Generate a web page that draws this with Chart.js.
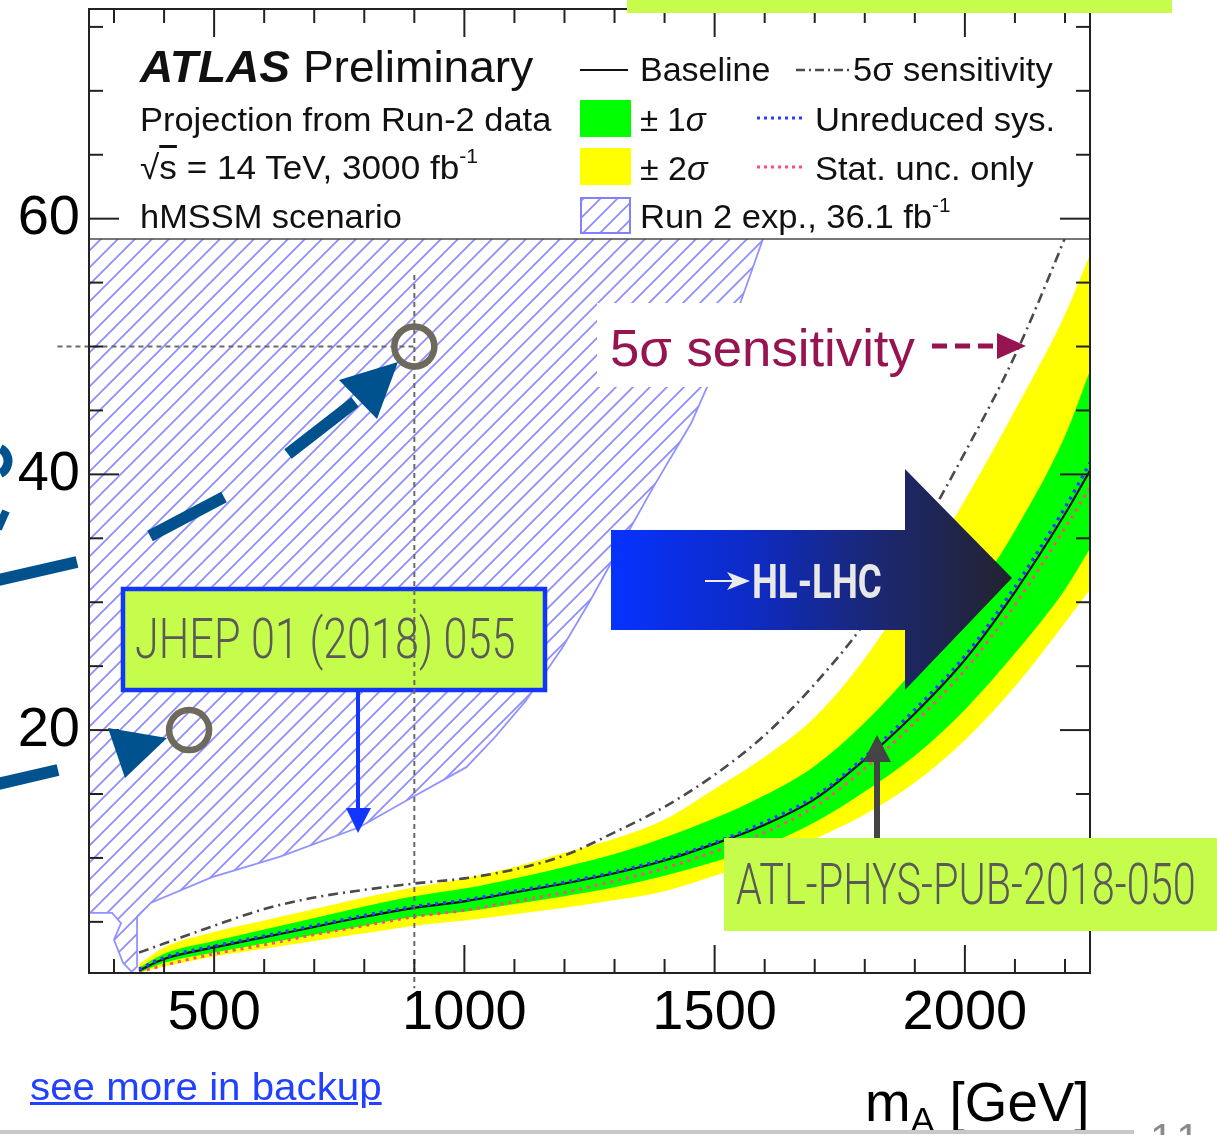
<!DOCTYPE html>
<html lang="en">
<head>
<meta charset="utf-8">
<title>hMSSM tanβ exclusion – HL-LHC projection</title>
<script src="https://cdn.jsdelivr.net/npm/chart.js@4.4.1/dist/chart.umd.min.js"></script>
<style>
  html, body { margin: 0; padding: 0; background: #fff; }
  body { width: 1217px; height: 1135px; overflow: hidden; position: relative; }
  #plot { position: absolute; left: 0; top: 0; }
  .txt { position: absolute; left: 0; top: 0; white-space: nowrap; line-height: 1;
         font-family: "Liberation Sans", Arial, Helvetica, sans-serif; color: #111;
         transform-origin: 0 0; }
  .leg { font-size: 34px; }
  .cond { font-family: Roboto, "Liberation Sans", sans-serif; font-weight: 300; color: #5a5a5a; }
  .sup { font-size: 0.6em; position: relative; top: -0.8em; }
  .sub { font-size: 0.65em; position: relative; top: 0.3em; }
  a { color: inherit; }
  #rule { position: absolute; left: 0; top: 1130px; width: 1134px; height: 4px; background: #c8c8c8; }
</style>
</head>
<body>
<canvas id="plot" width="1217" height="1135"></canvas>

<!-- legend panel -->
<div class="txt" style="font-size:45px" data-x="140" data-b="82" data-w="393"><b><i>ATLAS</i></b> Preliminary</div>
<div class="txt leg" data-x="140" data-b="131" data-w="411">Projection from Run-2 data</div>
<div class="txt leg" data-x="140" data-b="179" data-w="338">√<span style="text-decoration:overline">s</span> = 14 TeV, 3000 fb<span class="sup">-1</span></div>
<div class="txt leg" data-x="140" data-b="228" data-w="262">hMSSM scenario</div>
<div class="txt leg" data-x="640" data-b="81" data-w="130">Baseline</div>
<div class="txt leg" data-x="853" data-b="81" data-w="200">5σ sensitivity</div>
<div class="txt leg" data-x="640" data-b="131" data-w="66">± 1<i>σ</i></div>
<div class="txt leg" data-x="815" data-b="131" data-w="240">Unreduced sys.</div>
<div class="txt leg" data-x="640" data-b="180" data-w="68">± 2<i>σ</i></div>
<div class="txt leg" data-x="815" data-b="180" data-w="218">Stat. unc. only</div>
<div class="txt leg" data-x="640" data-b="228" data-w="310">Run 2 exp., 36.1 fb<span class="sup">-1</span></div>

<!-- call-outs -->
<div class="txt" style="font-size:52px;color:#961450" data-x="610" data-b="366" data-w="305">5σ sensitivity</div>
<div class="txt cond" style="font-size:56px" data-x="135" data-b="658" data-w="380">JHEP 01 (2018) 055</div>
<div class="txt cond" style="font-size:57px" data-x="736" data-b="904" data-w="460">ATL-PHYS-PUB-2018-050</div>
<div class="txt" style="font-family:Roboto,sans-serif;font-weight:700;font-size:49px;color:#e8e8e8" data-x="752" data-b="598" data-w="130">HL-LHC</div>

<!-- axis title, link, page footer -->
<div class="txt" style="font-size:55px;color:#000" data-x="865" data-b="1121" data-w="225">m<span class="sub">A</span> [GeV]</div>
<div class="txt" style="font-size:38px;color:#2141ff" data-x="30" data-b="1100" data-w="352"><a href="#backup">see more in backup</a></div>
<div class="txt" style="font-size:42px;color:#8a8a8a;letter-spacing:6px" data-x="1150" data-b="1153">11</div>
<div id="rule"></div>

<script>
// ---- m_A scan points [GeV] and tanβ limits -------------------------------
const massA      = [350, 400, 500, 600, 700, 800, 900, 1000, 1100, 1200, 1300, 1400, 1500, 1600, 1700, 1800, 1900, 2000, 2100, 2200, 2250];
const baseline   = [1.2, 2.1, 3.0, 3.8, 4.6, 5.4, 6.1, 6.6, 7.3, 8.0, 8.8, 9.8, 11.1, 12.6, 14.6, 17.7, 21.3, 25.5, 30.8, 36.9, 40.3];
const band1Up    = [1.4, 2.5, 3.5, 4.4, 5.3, 6.2, 7.0, 7.6, 8.4, 9.3, 10.3, 11.6, 13.1, 14.9, 17.2, 20.6, 24.8, 29.6, 35.6, 43.0, 48.1];
const band1Down  = [1.0, 1.8, 2.6, 3.3, 4.0, 4.7, 5.4, 5.8, 6.4, 7.0, 7.7, 8.6, 9.7, 11.0, 12.8, 15.2, 18.0, 21.6, 26.0, 31.0, 34.2];
const band2Up    = [1.7, 3.0, 4.2, 5.1, 6.0, 6.9, 7.7, 8.4, 9.3, 10.4, 11.5, 13.0, 15.4, 17.9, 21.0, 25.6, 31.5, 38.0, 45.0, 52.5, 57.2];
const band2Down  = [1.0, 1.5, 2.3, 2.9, 3.5, 4.1, 4.7, 5.1, 5.6, 6.1, 6.7, 7.4, 8.6, 9.9, 11.5, 13.4, 15.9, 19.2, 23.4, 28.4, 31.0];
const unreduced  = [1.3, 2.2, 3.1, 3.9, 4.7, 5.5, 6.2, 6.7, 7.4, 8.1, 8.9, 9.9, 11.2, 12.8, 14.8, 17.9, 21.6, 25.8, 31.2, 37.4, 40.9];
const statOnly   = [1.1, 1.6, 2.5, 3.2, 4.0, 4.7, 5.4, 5.9, 6.6, 7.3, 8.2, 9.2, 10.5, 12.0, 14.0, 17.0, 20.6, 24.7, 29.8, 35.8, 39.0];
const sens5sigma = [2.6, 3.3, 4.7, 6.0, 6.9, 7.5, 8.0, 8.4, 9.1, 10.2, 12.0, 14.0, 16.5, 19.6, 23.6, 28.4, 34.7, 41.7, 49.3, 58.5, 63.5];

// Run 2 expected exclusion (36.1 fb-1), contour traced as a closed outline
const run2Mass = [250, 1629, 1592, 1553, 1489, 1453, 1379, 1333, 1251, 1195, 1123, 1060, 1004, 896, 790, 632, 496, 374, 346, 346, 335, 318, 300, 314, 296, 250];
const run2TanB = [62, 62, 57.9, 53.6, 47.2, 44.0, 39.1, 35.9, 30.1, 26.4, 22.3, 19.4, 17.1, 14.75, 12.4, 10.1, 8.5, 6.5, 5.4, 1.5, 1.1, 1.8, 3.6, 4.9, 5.7, 5.7];

// benchmark points highlighted on the slide, with their guide extents
const benchMass = [450, 900];
const benchTanB = [20, 50];
const guideMassFrom = 187;       // horizontal guide starts left of the frame
const guideTanBSpan = [55.6, -0.2];

// axis ranges and labelled ticks
const xRange = [250, 2250];
const yRange = [1, 76.4];
const xTickLabels = [500, 1000, 1500, 2000];
const yTickLabels = [20, 40, 60];

// ---------------------------------------------------------------------------
const LIME = '#c6fd4c';
const pts = (xs, ys) => xs.map((x, i) => ({ x, y: ys[i] }));

function hatchPattern() {
  const s = 17, c = document.createElement('canvas');
  c.width = c.height = s;
  const g = c.getContext('2d');
  g.strokeStyle = 'rgba(120,120,255,0.85)';
  g.lineWidth = 1.7;
  g.beginPath();
  g.moveTo(0, s); g.lineTo(s, 0);
  g.moveTo(-2, 2); g.lineTo(2, -2);
  g.moveTo(s - 2, s + 2); g.lineTo(s + 2, s - 2);
  g.stroke();
  return g.createPattern(c, 'repeat');
}
const HATCH = hatchPattern();

function tri(g, p) {
  g.beginPath(); g.moveTo(p[0], p[1]); g.lineTo(p[2], p[3]); g.lineTo(p[4], p[5]); g.closePath(); g.fill();
}
function seg(g, x1, y1, x2, y2) { g.beginPath(); g.moveTo(x1, y1); g.lineTo(x2, y2); g.stroke(); }

const LEG_Y = 239;   // lower edge of the legend panel

const decorations = {
  id: 'decorations',
  afterDatasetDraw(chart, args) {
    if (args.index !== 0) return;            // right after the hatched Run 2 region
    const g = chart.ctx;
    g.save();
    g.fillStyle = '#fff';
    g.fillRect(597, 303, 338, 84);           // backing of the 5σ call-out
    g.fillStyle = LIME;
    g.fillRect(123, 589, 422, 101);          // JHEP reference box
    g.strokeStyle = '#1236ff'; g.lineWidth = 4.5;
    g.strokeRect(123, 589, 422, 101);
    g.restore();
  },
  afterDatasetsDraw(chart) {
    const g = chart.ctx, a = chart.chartArea;
    g.save();
    // legend panel covering the top of the frame
    g.fillStyle = '#fff';
    g.fillRect(a.left, a.top, a.right - a.left, LEG_Y - a.top);
    g.strokeStyle = '#4a4a4a'; g.lineWidth = 1.5;
    seg(g, a.left, LEG_Y, a.right, LEG_Y);

    // HL-LHC block arrow
    const grad = g.createLinearGradient(611, 0, 1012, 0);
    grad.addColorStop(0, '#0632ff');
    grad.addColorStop(0.35, '#0e2bc4');
    grad.addColorStop(0.68, '#1b276e');
    grad.addColorStop(1, '#23232e');
    g.fillStyle = grad;
    g.beginPath();
    g.moveTo(611, 530); g.lineTo(905, 530); g.lineTo(905, 469); g.lineTo(1012, 578);
    g.lineTo(905, 690); g.lineTo(905, 630); g.lineTo(611, 630); g.closePath(); g.fill();
    g.strokeStyle = '#ececec'; g.fillStyle = '#ececec'; g.lineWidth = 2;
    seg(g, 705, 581, 736, 581);
    g.beginPath(); g.moveTo(727, 572); g.lineTo(750, 581); g.lineTo(727, 590); g.lineTo(733, 581); g.closePath(); g.fill();
    g.restore();
  },
  afterDraw(chart) {
    const g = chart.ctx, a = chart.chartArea, sx = chart.scales.x, sy = chart.scales.y;
    g.save();
    // frame with inward ticks on all four sides
    g.strokeStyle = '#222'; g.lineWidth = 2;
    g.strokeRect(a.left, a.top, a.right - a.left, a.bottom - a.top);
    for (let v = 300; v <= 2200; v += 100) {
      const px = sx.getPixelForValue(v), len = v % 500 === 0 ? 28 : 14;
      seg(g, px, a.bottom, px, a.bottom - len);
      seg(g, px, a.top, px, a.top + len);
    }
    for (let v = 5; v <= 75; v += 5) {
      const py = sy.getPixelForValue(v), len = v % 20 === 0 ? 30 : 14;
      seg(g, a.left, py, a.left + len, py);
      seg(g, a.right, py, a.right - len, py);
    }

    // legend symbols
    g.lineWidth = 2.2; g.strokeStyle = '#111';
    seg(g, 580, 70, 628, 70);
    g.strokeStyle = '#4a4a4a'; g.lineWidth = 2.5; g.setLineDash([9, 4, 2, 4]);
    seg(g, 796, 70, 849, 70);
    g.setLineDash([3, 4]); g.lineWidth = 3;
    g.strokeStyle = '#2a3cff'; seg(g, 757, 118, 806, 118);
    g.strokeStyle = '#ff4d73'; seg(g, 757, 167, 806, 167);
    g.setLineDash([]);
    g.fillStyle = '#00ff00'; g.fillRect(580, 100, 51, 37);
    g.fillStyle = '#ffff00'; g.fillRect(580, 148, 51, 37);
    g.fillStyle = HATCH; g.fillRect(580, 197, 51, 37);
    g.strokeStyle = 'rgba(130,130,255,1)'; g.lineWidth = 2; g.strokeRect(581, 198, 49, 35);

    // reference boxes sitting over the frame
    g.fillStyle = LIME;
    g.fillRect(627, 0, 545, 13);
    g.fillRect(724, 838, 493, 93);

    // ATL pointer
    g.strokeStyle = '#444'; g.fillStyle = '#444'; g.lineWidth = 6;
    seg(g, 877, 838, 877, 758);
    tri(g, [863, 762, 891, 762, 877, 735]);

    // JHEP pointer
    g.strokeStyle = '#1236ff'; g.fillStyle = '#1236ff'; g.lineWidth = 4;
    seg(g, 358, 692, 358, 812);
    tri(g, [346, 808, 371, 808, 358, 833]);

    // 5σ call-out arrow
    g.strokeStyle = '#961450'; g.fillStyle = '#961450'; g.lineWidth = 5; g.setLineDash([15, 8]);
    seg(g, 932, 346, 997, 346);
    g.setLineDash([]);
    tri(g, [997, 333, 1026, 346, 997, 359]);

    // curved dashed arrows towards the benchmark points
    g.strokeStyle = '#00528f'; g.fillStyle = '#00528f'; g.lineWidth = 12; g.lineCap = 'butt';
    seg(g, -2, 580, 77, 562);
    seg(g, 150, 536, 224, 497);
    seg(g, 288, 454, 355, 402);
    tri(g, [339, 380, 377, 419, 398, 362]);
    seg(g, -2, 784, 58, 770);
    tri(g, [108, 728, 125, 778, 167, 738]);
    g.lineWidth = 9;
    g.beginPath(); g.arc(-6, 461, 14, -1.1, 1.1); g.stroke();
    g.lineWidth = 8;
    seg(g, -2, 529, 6, 511);
    g.restore();
  }
};

const curve = { pointRadius: 0, pointHoverRadius: 0, cubicInterpolationMode: 'monotone' };
const clear = 'rgba(0,0,0,0)';

const chart = new Chart(document.getElementById('plot'), {
  type: 'line',
  data: {
    datasets: [
      { label: 'Run 2 exp., 36.1 fb-1', data: pts(run2Mass, run2TanB), fill: 'shape',
        backgroundColor: HATCH, borderColor: 'rgba(140,140,255,0.95)', borderWidth: 1.8,
        pointRadius: 0, tension: 0, order: 9 },
      { label: '+2σ', data: pts(massA, band2Up), ...curve, fill: '+1', backgroundColor: '#ffff00',
        borderColor: clear, borderWidth: 0, order: 8 },
      { label: '-2σ', data: pts(massA, band2Down), ...curve, fill: false, borderColor: clear, borderWidth: 0, order: 8 },
      { label: '+1σ', data: pts(massA, band1Up), ...curve, fill: '+1', backgroundColor: '#00ff00',
        borderColor: clear, borderWidth: 0, order: 7 },
      { label: '-1σ', data: pts(massA, band1Down), ...curve, fill: false, borderColor: clear, borderWidth: 0, order: 7 },
      { label: '5σ sensitivity', data: pts(massA, sens5sigma), ...curve, fill: false,
        borderColor: '#4a4a4a', borderWidth: 2.6, borderDash: [10, 5, 2, 5], order: 5 },
      { label: 'Stat. unc. only', data: pts(massA, statOnly), ...curve, fill: false,
        borderColor: '#ff4d73', borderWidth: 3, borderDash: [3, 5], order: 4 },
      { label: 'Baseline', data: pts(massA, baseline), ...curve, fill: false,
        borderColor: '#111', borderWidth: 2.2, order: 3 },
      { label: 'Unreduced sys.', data: pts(massA, unreduced), ...curve, fill: false,
        borderColor: '#2a3cff', borderWidth: 3.4, borderDash: [3, 5], order: 2 },
      { label: 'guide tanβ', data: [{ x: guideMassFrom, y: benchTanB[1] }, { x: benchMass[1], y: benchTanB[1] }],
        fill: false, pointRadius: 0, tension: 0, borderColor: '#6a6a6a', borderWidth: 2,
        borderDash: [5, 4], clip: false, order: 1 },
      { label: 'guide mA', data: [{ x: benchMass[1], y: guideTanBSpan[0] }, { x: benchMass[1], y: guideTanBSpan[1] }],
        fill: false, pointRadius: 0, tension: 0, borderColor: '#6a6a6a', borderWidth: 2,
        borderDash: [5, 4], clip: false, order: 1 },
      { label: 'benchmarks', data: pts(benchMass, benchTanB), showLine: false, fill: false,
        pointRadius: 20, pointHoverRadius: 20, pointBorderWidth: 6.5, pointBorderColor: '#6d6a5b',
        pointBackgroundColor: clear, clip: false, order: 0 }
    ]
  },
  options: {
    responsive: false,
    animation: false,
    devicePixelRatio: 1,
    layout: { autoPadding: false, padding: { left: 0, top: 9, right: 127, bottom: 0 } },
    plugins: { legend: { display: false }, tooltip: { enabled: false } },
    scales: {
      x: {
        type: 'linear', min: xRange[0], max: xRange[1],
        grid: { display: false, drawTicks: false }, border: { display: false },
        ticks: { color: '#000', padding: 7, font: { family: 'Liberation Sans', size: 56 }, maxRotation: 0,
                 callback: v => String(v) },
        afterBuildTicks: s => { s.ticks = xTickLabels.map(v => ({ value: v })); },
        afterFit: s => { s.height = 162; s.paddingLeft = 0; s.paddingRight = 0; }
      },
      y: {
        type: 'linear', min: yRange[0], max: yRange[1],
        grid: { display: false, drawTicks: false }, border: { display: false },
        ticks: { color: '#000', padding: 9, font: { family: 'Liberation Sans', size: 56 },
                 callback: v => String(v) },
        afterBuildTicks: s => { s.ticks = yTickLabels.map(v => ({ value: v })); },
        afterFit: s => { s.width = 89; s.paddingTop = 0; s.paddingBottom = 0; }
      }
    }
  },
  plugins: [decorations]
});

// text layer: place each label by its baseline, then fit it to its width
function placeTexts() {
  document.querySelectorAll('.txt').forEach(el => {
    const mark = document.createElement('span');
    mark.style.cssText = 'display:inline-block;width:0;height:0;vertical-align:baseline';
    el.appendChild(mark);
    const base = mark.offsetTop;
    el.style.left = el.dataset.x + 'px';
    el.style.top = (el.dataset.b - base) + 'px';
    if (el.dataset.w) {
      el.style.transform = 'scaleX(' + (el.dataset.w / el.offsetWidth) + ')';
    }
  });
}
placeTexts();
</script>
</body>
</html>
